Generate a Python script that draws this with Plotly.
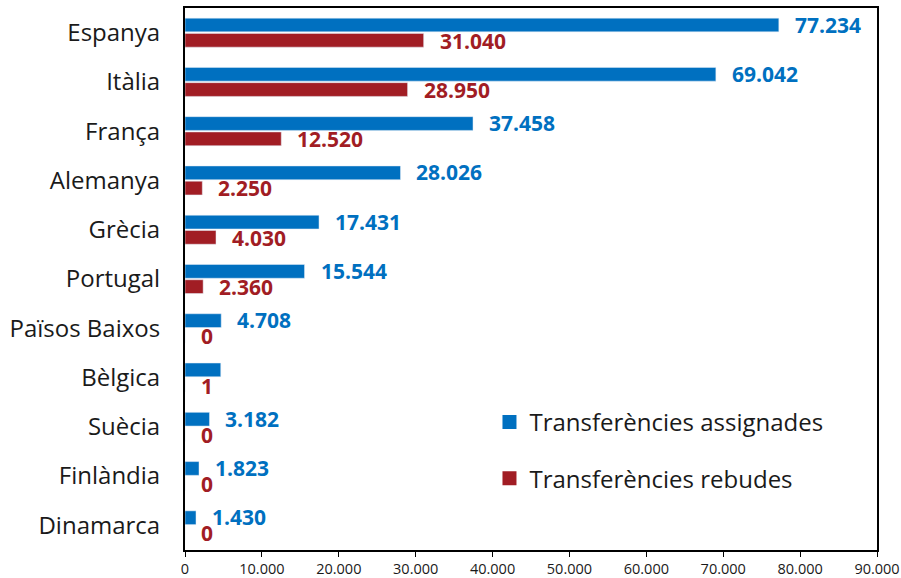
import plotly.graph_objects as go

categories = ["Espanya", "Itàlia", "França", "Alemanya", "Grècia", "Portugal",
              "Països Baixos", "Bèlgica", "Suècia", "Finlàndia", "Dinamarca"]
assigned = [77234, 69042, 37458, 28026, 17431, 15544, 4708, 4650, 3182, 1823, 1430]
received = [31040, 28950, 12520, 2250, 4030, 2360, 0, 1, 0, 0, 0]
assigned_label_shown = [True, True, True, True, True, True, True, False, True, True, True]
tick_values = [0, 10000, 20000, 30000, 40000, 50000, 60000, 70000, 80000, 90000]

BLUE = "#0070C0"
RED = "#A11D24"
FONT = "Open Sans"


def fmt(v):
    return f"{v:,}".replace(",", ".")


fig = go.Figure()
fig.add_trace(go.Bar(y=categories, x=assigned, orientation="h", marker_color=BLUE,
                     name="Transferències assignades", showlegend=False))
fig.add_trace(go.Bar(y=categories, x=received, orientation="h", marker_color=RED,
                     name="Transferències rebudes", showlegend=False))

# legend entries (square markers)
fig.add_trace(go.Scatter(x=[None], y=[None], mode="markers", name="Transferències assignades",
                         marker=dict(symbol="square", size=14, color=BLUE), legendgroup="a"))
fig.add_trace(go.Scatter(x=[None], y=[None], mode="markers", name="Transferències rebudes",
                         marker=dict(symbol="square", size=14, color=RED), legendgroup="b"))

annotations = []
for cat, v, show in zip(categories, assigned, assigned_label_shown):
    if show:
        annotations.append(dict(x=v, y=cat, text=f"<b>{fmt(v)}</b>", showarrow=False,
                                xanchor="left", yanchor="middle", xshift=14, yshift=8,
                                font=dict(family=FONT, size=21, color=BLUE)))
for cat, v in zip(categories, received):
    annotations.append(dict(x=v, y=cat, text=f"<b>{fmt(v)}</b>", showarrow=False,
                            xanchor="left", yanchor="middle", xshift=14, yshift=-8,
                            font=dict(family=FONT, size=21, color=RED)))

fig.update_layout(
    width=901, height=578,
    margin=dict(l=185, r=24, t=8, b=28),
    paper_bgcolor="white", plot_bgcolor="white",
    barmode="group", bargap=0.38, bargroupgap=0.1,
    separators=",.",
    font=dict(family=FONT, color="#1a1a1a"),
    annotations=annotations,
    legend=dict(x=0.44, y=0.277, xanchor="left", yanchor="top",
                font=dict(family=FONT, size=24, color="#1a1a1a"),
                traceorder="grouped", tracegroupgap=22, bgcolor="rgba(0,0,0,0)"),
    showlegend=True,
)
fig.update_xaxes(range=[0, 90000], tickvals=tick_values,
                 ticktext=[fmt(t) for t in tick_values], automargin=False,
                 showgrid=False, zeroline=False, showline=True, linecolor="black",
                 linewidth=2, mirror=True, ticks="outside", ticklen=5, tickcolor="black",
                 tickwidth=1, tickfont=dict(family=FONT, size=14.5, color="#1a1a1a"))
fig.update_yaxes(autorange="reversed", showgrid=False, showline=True, linecolor="black",
                 linewidth=2, mirror=True, ticks="", ticklabelstandoff=18, automargin=False,
                 tickfont=dict(family=FONT, size=24, color="#1a1a1a"))

fig.write_html("out.html", config={"displayModeBar": False},
               post_script="document.body.style.margin='0';document.body.style.overflow='hidden';")
